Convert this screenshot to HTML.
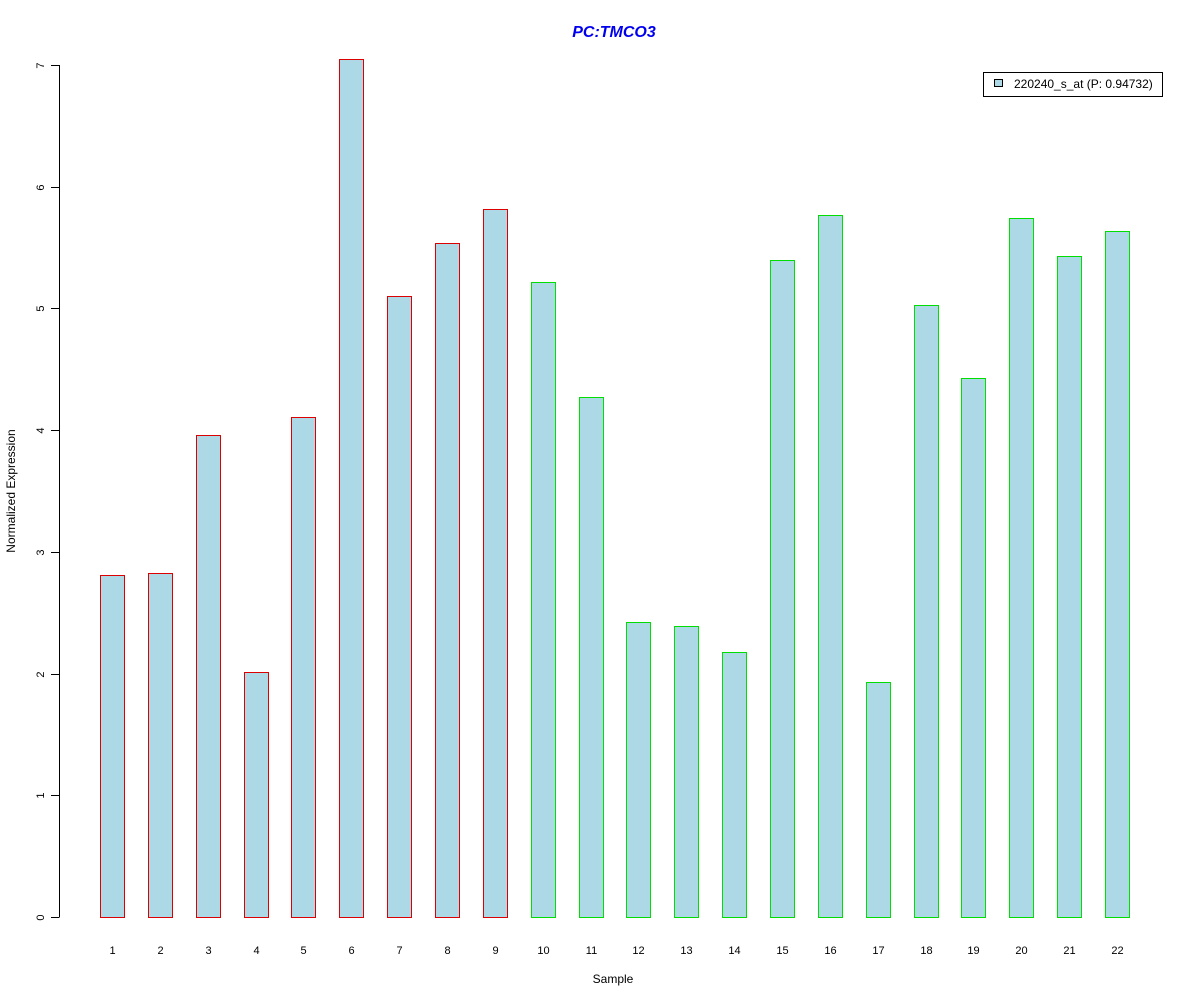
<!DOCTYPE html>
<html><head><meta charset="utf-8"><style>
html,body{margin:0;padding:0;background:#fff;}
svg{display:block;font-family:"Liberation Sans",Arial,sans-serif;}
</style></head><body>
<svg id="chart" width="1200" height="1000" xmlns="http://www.w3.org/2000/svg">
<rect width="1200" height="1000" fill="#fff"/>
<text x="614" y="37" text-anchor="middle" font-size="16" font-weight="bold" font-style="italic" fill="#0000ee">PC:TMCO3</text>
<text x="613" y="983" text-anchor="middle" font-size="12">Sample</text>
<text transform="translate(15,491) rotate(-90)" text-anchor="middle" font-size="12">Normalized Expression</text>
<g id="yaxis"></g>
<g id="bars"></g>
<g id="xlabels"></g>
<g>
<rect x="983.5" y="72.5" width="179" height="24" fill="#fff" stroke="#000"/>
<rect x="994.5" y="79.5" width="8" height="7" fill="#add8e6" stroke="#000"/>
<text x="1014" y="88" font-size="12">220240_s_at (P: 0.94732)</text>
</g>
</svg>
<script>
const categories = ["1","2","3","4","5","6","7","8","9","10","11","12","13","14","15","16","17","18","19","20","21","22"];
const values = [2.81,2.83,3.96,2.01,4.11,7.05,5.10,5.54,5.82,5.22,4.27,2.42,2.39,2.18,5.40,5.77,1.93,5.03,4.43,5.74,5.43,5.64];
const groups = ["a","a","a","a","a","a","a","a","a","b","b","b","b","b","b","b","b","b","b","b","b","b"];
const yTicks = [0,1,2,3,4,5,6,7];
const NS = "http://www.w3.org/2000/svg";
const y = v => 917 - v * (917 - 65) / 7;
const x = i => 100 + i * (1105 - 100) / 21;
const BW = 24;
const yax = document.getElementById('yaxis');
function mk(tag, attrs, parent){const e=document.createElementNS(NS,tag);for(const k in attrs)e.setAttribute(k,attrs[k]);parent.appendChild(e);return e;}
const al = mk('line',{x1:59.5,x2:59.5,y1:y(0),y2:y(7),stroke:'#000'},yax);


yTicks.forEach(t=>{
  const ty = Math.round(y(t))+0.5;
  const tk = mk('line',{x1:51,x2:59.5,y1:ty,y2:ty,stroke:'#000'},yax);
  
  
  const tl = mk('text',{transform:`translate(44,${ty}) rotate(-90)`,'text-anchor':'middle','font-size':11},yax);
  
  
  tl.textContent = t;
});
const bars = document.getElementById('bars');
const xl = document.getElementById('xlabels');
values.forEach((v,i)=>{
  const x0 = Math.round(x(i))+0.5;
  const top = Math.round(y(v))+0.5;
  const r = mk('rect',{x:x0,y:top,width:BW,height:917.5-top,fill:'#add8e6',stroke:groups[i]==='a'?'#dd0000':'#00dd00'},bars);
  
  
  const t = mk('text',{x:x0+BW/2,y:954,'text-anchor':'middle','font-size':11},xl);
  
  
  t.textContent = categories[i];
});
</script>
</body></html>
